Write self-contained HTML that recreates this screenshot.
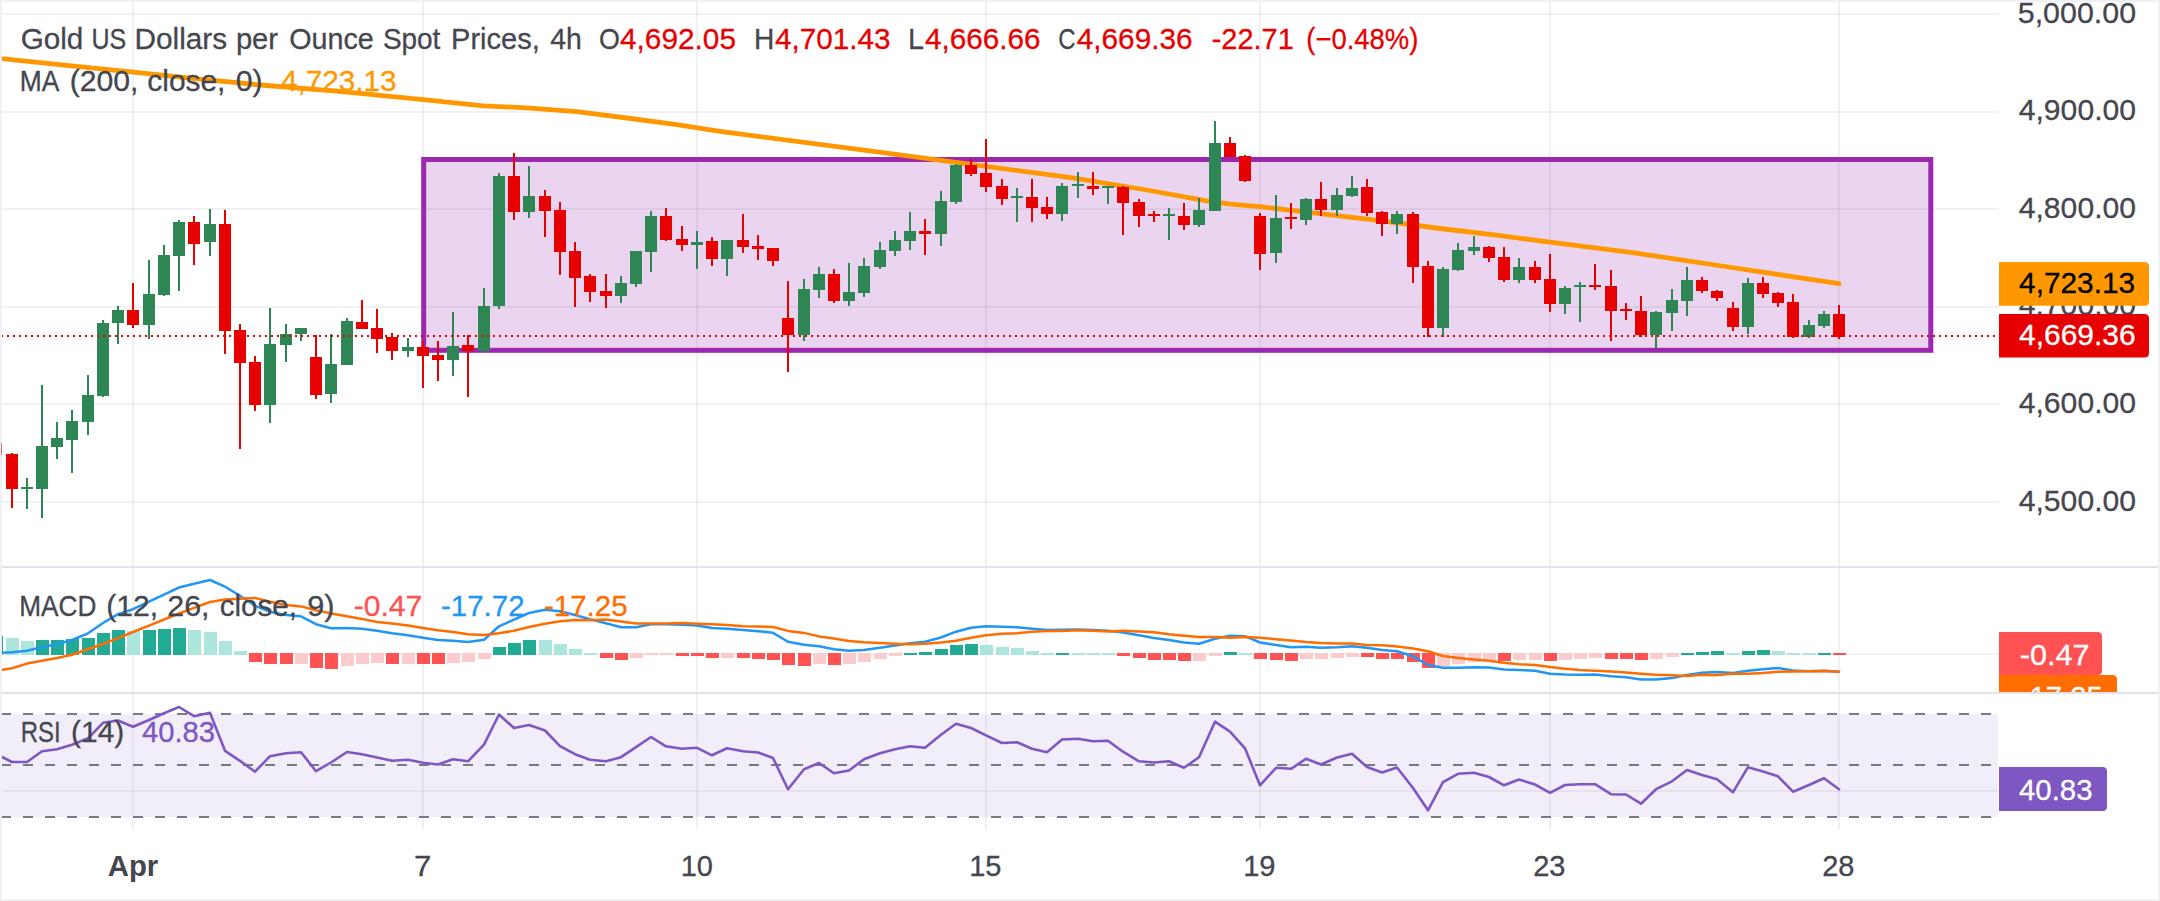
<!DOCTYPE html>
<html lang="en"><head><meta charset="utf-8"><title>Gold US Dollars per Ounce Spot Prices, 4h</title>
<style>html,body{margin:0;padding:0;background:#fff;}body{width:2160px;height:901px;overflow:hidden;}svg{display:block;}</style>
</head><body>
<svg width="2160" height="901" viewBox="0 0 2160 901" font-family="'Liberation Sans', sans-serif" font-size="30" stroke-width="0.3">
<rect width="2160" height="901" fill="#fff"/>
<g stroke="rgba(42,46,57,0.065)" stroke-width="2">
<line x1="133" y1="2" x2="133" y2="829.5"/>
<line x1="423" y1="2" x2="423" y2="829.5"/>
<line x1="697" y1="2" x2="697" y2="829.5"/>
<line x1="986" y1="2" x2="986" y2="829.5"/>
<line x1="1260" y1="2" x2="1260" y2="829.5"/>
<line x1="1550" y1="2" x2="1550" y2="829.5"/>
<line x1="1839" y1="2" x2="1839" y2="829.5"/>
<line x1="2" y1="14" x2="1999" y2="14"/>
<line x1="2" y1="112" x2="1999" y2="112"/>
<line x1="2" y1="209" x2="1999" y2="209"/>
<line x1="2" y1="307" x2="1999" y2="307"/>
<line x1="2" y1="404" x2="1999" y2="404"/>
<line x1="2" y1="502" x2="1999" y2="502"/>
<line x1="2" y1="654" x2="1999" y2="654"/>
<line x1="2" y1="791" x2="1999" y2="791"/>
</g>
<defs><clipPath id="cm"><rect x="1.5" y="1.5" width="1997.5" height="564"/></clipPath><clipPath id="c2"><rect x="1.5" y="567" width="1997.5" height="125"/></clipPath><clipPath id="c3"><rect x="1.5" y="693.5" width="1997.5" height="136"/></clipPath><clipPath id="ca"><rect x="1999" y="567" width="160" height="125"/></clipPath></defs>
<rect x="423.7" y="159.5" width="1507.1" height="190.8" fill="#9c27b0" fill-opacity="0.2" stroke="#9c27b0" stroke-width="5"/>
<g clip-path="url(#cm)"><polyline points="-3,58 1.7,58.7 66.7,65.3 133.3,72.2 200,79.2 266.7,85.5 333.3,90.8 360,93.3 423.3,99.7 483.3,105.8 526.7,107.8 576.7,111.7 626.7,118 676.7,124.7 720,131.3 883,152.7 1060,176.2 1080,179.0 1146.7,190 1206.7,200.8 1230,204.2 1260,206.7 1313.3,212.9 1380,220.6 1440,228.5 1498.3,235.4 1549.9,242.2 1634.4,252.9 1731.7,267.5 1839,283.7" fill="none" stroke="#ff9800" stroke-width="4.8" stroke-linejoin="round" stroke-linecap="round"/></g>
<g clip-path="url(#cm)">
<rect x="-5.00" y="443" width="2" height="12.0" fill="#e60000"/><rect x="-10.00" y="443" width="12" height="12.0" fill="#e60000"/>
<rect x="11.00" y="453" width="2" height="55.0" fill="#e60000"/><rect x="6.00" y="454" width="12" height="35.0" fill="#e60000"/>
<rect x="26.00" y="478" width="2" height="31.0" fill="#2d8653"/><rect x="21.00" y="487" width="12" height="2.0" fill="#2d8653"/>
<rect x="41.00" y="385" width="2" height="133.0" fill="#2d8653"/><rect x="36.00" y="446" width="12" height="43.0" fill="#2d8653"/>
<rect x="56.00" y="422" width="2" height="37.0" fill="#2d8653"/><rect x="51.00" y="438" width="12" height="9.0" fill="#2d8653"/>
<rect x="71.00" y="410" width="2" height="63.0" fill="#2d8653"/><rect x="66.00" y="421" width="12" height="19.0" fill="#2d8653"/>
<rect x="87.00" y="375" width="2" height="60.0" fill="#2d8653"/><rect x="82.00" y="395" width="12" height="27.0" fill="#2d8653"/>
<rect x="102.00" y="320" width="2" height="77.0" fill="#2d8653"/><rect x="97.00" y="323" width="12" height="73.0" fill="#2d8653"/>
<rect x="117.00" y="306" width="2" height="38.0" fill="#2d8653"/><rect x="112.00" y="310" width="12" height="13.0" fill="#2d8653"/>
<rect x="132.00" y="283" width="2" height="45.0" fill="#e60000"/><rect x="127.00" y="310" width="12" height="15.0" fill="#e60000"/>
<rect x="148.00" y="260" width="2" height="79.0" fill="#2d8653"/><rect x="143.00" y="294" width="12" height="31.0" fill="#2d8653"/>
<rect x="163.00" y="245" width="2" height="51.0" fill="#2d8653"/><rect x="158.00" y="255" width="12" height="40.0" fill="#2d8653"/>
<rect x="178.00" y="220" width="2" height="71.0" fill="#2d8653"/><rect x="173.00" y="222" width="12" height="34.0" fill="#2d8653"/>
<rect x="193.00" y="216" width="2" height="49.0" fill="#e60000"/><rect x="188.00" y="222" width="12" height="22.0" fill="#e60000"/>
<rect x="209.00" y="209" width="2" height="47.0" fill="#2d8653"/><rect x="204.00" y="224" width="12" height="18.0" fill="#2d8653"/>
<rect x="224.00" y="210" width="2" height="144.0" fill="#e60000"/><rect x="219.00" y="224" width="12" height="107.0" fill="#e60000"/>
<rect x="239.00" y="324" width="2" height="125.0" fill="#e60000"/><rect x="234.00" y="330" width="12" height="33.0" fill="#e60000"/>
<rect x="254.00" y="356" width="2" height="55.0" fill="#e60000"/><rect x="249.00" y="362" width="12" height="43.0" fill="#e60000"/>
<rect x="269.00" y="308" width="2" height="115.0" fill="#2d8653"/><rect x="264.00" y="344" width="12" height="61.0" fill="#2d8653"/>
<rect x="285.00" y="324" width="2" height="38.0" fill="#2d8653"/><rect x="280.00" y="334" width="12" height="11.0" fill="#2d8653"/>
<rect x="300.00" y="328" width="2" height="13.0" fill="#2d8653"/><rect x="295.00" y="328" width="12" height="6.0" fill="#2d8653"/>
<rect x="315.00" y="335" width="2" height="64.0" fill="#e60000"/><rect x="310.00" y="357" width="12" height="38.0" fill="#e60000"/>
<rect x="330.00" y="334" width="2" height="69.0" fill="#2d8653"/><rect x="325.00" y="364" width="12" height="30.0" fill="#2d8653"/>
<rect x="346.00" y="318" width="2" height="47.0" fill="#2d8653"/><rect x="341.00" y="321" width="12" height="44.0" fill="#2d8653"/>
<rect x="361.00" y="300" width="2" height="29.0" fill="#e60000"/><rect x="356.00" y="322" width="12" height="7.0" fill="#e60000"/>
<rect x="376.00" y="309" width="2" height="44.0" fill="#e60000"/><rect x="371.00" y="328" width="12" height="11.0" fill="#e60000"/>
<rect x="391.00" y="333" width="2" height="27.0" fill="#e60000"/><rect x="386.00" y="337" width="12" height="14.0" fill="#e60000"/>
<rect x="407.00" y="338" width="2" height="19.0" fill="#2d8653"/><rect x="402.00" y="347" width="12" height="4.0" fill="#2d8653"/>
<rect x="422.00" y="341" width="2" height="47.0" fill="#e60000"/><rect x="417.00" y="347" width="12" height="9.0" fill="#e60000"/>
<rect x="437.00" y="341" width="2" height="40.0" fill="#e60000"/><rect x="432.00" y="355" width="12" height="5.0" fill="#e60000"/>
<rect x="452.00" y="312" width="2" height="64.0" fill="#2d8653"/><rect x="447.00" y="346" width="12" height="14.0" fill="#2d8653"/>
<rect x="467.00" y="335" width="2" height="62.0" fill="#e60000"/><rect x="462.00" y="345" width="12" height="6.0" fill="#e60000"/>
<rect x="483.00" y="288" width="2" height="64.0" fill="#2d8653"/><rect x="478.00" y="306" width="12" height="45.0" fill="#2d8653"/>
<rect x="498.00" y="173" width="2" height="136.0" fill="#2d8653"/><rect x="493.00" y="176" width="12" height="130.0" fill="#2d8653"/>
<rect x="513.00" y="153" width="2" height="67.0" fill="#e60000"/><rect x="508.00" y="176" width="12" height="36.0" fill="#e60000"/>
<rect x="528.00" y="166" width="2" height="52.0" fill="#2d8653"/><rect x="523.00" y="196" width="12" height="16.0" fill="#2d8653"/>
<rect x="544.00" y="190" width="2" height="47.0" fill="#e60000"/><rect x="539.00" y="196" width="12" height="15.0" fill="#e60000"/>
<rect x="559.00" y="202" width="2" height="73.0" fill="#e60000"/><rect x="554.00" y="210" width="12" height="42.0" fill="#e60000"/>
<rect x="574.00" y="242" width="2" height="65.0" fill="#e60000"/><rect x="569.00" y="251" width="12" height="27.0" fill="#e60000"/>
<rect x="589.00" y="274" width="2" height="28.0" fill="#e60000"/><rect x="584.00" y="276" width="12" height="16.0" fill="#e60000"/>
<rect x="605.00" y="274" width="2" height="34.0" fill="#e60000"/><rect x="600.00" y="291" width="12" height="5.0" fill="#e60000"/>
<rect x="620.00" y="276" width="2" height="27.0" fill="#2d8653"/><rect x="615.00" y="283" width="12" height="13.0" fill="#2d8653"/>
<rect x="635.00" y="251" width="2" height="36.0" fill="#2d8653"/><rect x="630.00" y="251" width="12" height="33.0" fill="#2d8653"/>
<rect x="650.00" y="211" width="2" height="61.0" fill="#2d8653"/><rect x="645.00" y="216" width="12" height="36.0" fill="#2d8653"/>
<rect x="665.00" y="208" width="2" height="33.0" fill="#e60000"/><rect x="660.00" y="216" width="12" height="24.0" fill="#e60000"/>
<rect x="681.00" y="226" width="2" height="25.0" fill="#e60000"/><rect x="676.00" y="239" width="12" height="6.0" fill="#e60000"/>
<rect x="696.00" y="231" width="2" height="38.0" fill="#2d8653"/><rect x="691.00" y="242" width="12" height="3.0" fill="#2d8653"/>
<rect x="711.00" y="237" width="2" height="29.0" fill="#e60000"/><rect x="706.00" y="241" width="12" height="18.0" fill="#e60000"/>
<rect x="726.00" y="240" width="2" height="36.0" fill="#2d8653"/><rect x="721.00" y="240" width="12" height="19.0" fill="#2d8653"/>
<rect x="742.00" y="214" width="2" height="39.0" fill="#e60000"/><rect x="737.00" y="240" width="12" height="7.0" fill="#e60000"/>
<rect x="757.00" y="235" width="2" height="25.0" fill="#e60000"/><rect x="752.00" y="246" width="12" height="3.0" fill="#e60000"/>
<rect x="772.00" y="248" width="2" height="18.0" fill="#e60000"/><rect x="767.00" y="248" width="12" height="13.0" fill="#e60000"/>
<rect x="787.00" y="281" width="2" height="91.0" fill="#e60000"/><rect x="782.00" y="318" width="12" height="17.0" fill="#e60000"/>
<rect x="803.00" y="279" width="2" height="62.0" fill="#2d8653"/><rect x="798.00" y="289" width="12" height="46.0" fill="#2d8653"/>
<rect x="818.00" y="267" width="2" height="31.0" fill="#2d8653"/><rect x="813.00" y="274" width="12" height="16.0" fill="#2d8653"/>
<rect x="833.00" y="269" width="2" height="34.0" fill="#e60000"/><rect x="828.00" y="274" width="12" height="27.0" fill="#e60000"/>
<rect x="848.00" y="263" width="2" height="43.0" fill="#2d8653"/><rect x="843.00" y="292" width="12" height="9.0" fill="#2d8653"/>
<rect x="863.00" y="258" width="2" height="39.0" fill="#2d8653"/><rect x="858.00" y="266" width="12" height="27.0" fill="#2d8653"/>
<rect x="879.00" y="242" width="2" height="27.0" fill="#2d8653"/><rect x="874.00" y="250" width="12" height="17.0" fill="#2d8653"/>
<rect x="894.00" y="231" width="2" height="25.0" fill="#2d8653"/><rect x="889.00" y="240" width="12" height="11.0" fill="#2d8653"/>
<rect x="909.00" y="212" width="2" height="38.0" fill="#2d8653"/><rect x="904.00" y="231" width="12" height="10.0" fill="#2d8653"/>
<rect x="924.00" y="219" width="2" height="36.0" fill="#e60000"/><rect x="919.00" y="231" width="12" height="3.0" fill="#e60000"/>
<rect x="940.00" y="191" width="2" height="55.0" fill="#2d8653"/><rect x="935.00" y="201" width="12" height="33.0" fill="#2d8653"/>
<rect x="955.00" y="164" width="2" height="40.0" fill="#2d8653"/><rect x="950.00" y="165" width="12" height="37.0" fill="#2d8653"/>
<rect x="970.00" y="159" width="2" height="17.0" fill="#e60000"/><rect x="965.00" y="165" width="12" height="9.0" fill="#e60000"/>
<rect x="985.00" y="139" width="2" height="53.0" fill="#e60000"/><rect x="980.00" y="173" width="12" height="14.0" fill="#e60000"/>
<rect x="1001.00" y="179" width="2" height="26.0" fill="#e60000"/><rect x="996.00" y="186" width="12" height="13.0" fill="#e60000"/>
<rect x="1016.00" y="188" width="2" height="34.0" fill="#2d8653"/><rect x="1011.00" y="196" width="12" height="2.0" fill="#2d8653"/>
<rect x="1031.00" y="179" width="2" height="43.0" fill="#e60000"/><rect x="1026.00" y="197" width="12" height="11.0" fill="#e60000"/>
<rect x="1046.00" y="197" width="2" height="22.0" fill="#e60000"/><rect x="1041.00" y="207" width="12" height="7.0" fill="#e60000"/>
<rect x="1061.00" y="183" width="2" height="38.0" fill="#2d8653"/><rect x="1056.00" y="186" width="12" height="28.0" fill="#2d8653"/>
<rect x="1077.00" y="172" width="2" height="26.0" fill="#2d8653"/><rect x="1072.00" y="184" width="12" height="2.0" fill="#2d8653"/>
<rect x="1092.00" y="172" width="2" height="23.0" fill="#e60000"/><rect x="1087.00" y="186" width="12" height="3.0" fill="#e60000"/>
<rect x="1107.00" y="186" width="2" height="18.0" fill="#2d8653"/><rect x="1102.00" y="186" width="12" height="2.0" fill="#2d8653"/>
<rect x="1122.00" y="186" width="2" height="49.0" fill="#e60000"/><rect x="1117.00" y="187" width="12" height="16.0" fill="#e60000"/>
<rect x="1138.00" y="199" width="2" height="28.0" fill="#e60000"/><rect x="1133.00" y="202" width="12" height="14.0" fill="#e60000"/>
<rect x="1153.00" y="211" width="2" height="11.0" fill="#e60000"/><rect x="1148.00" y="214" width="12" height="2.0" fill="#e60000"/>
<rect x="1168.00" y="208" width="2" height="32.0" fill="#2d8653"/><rect x="1163.00" y="214" width="12" height="2.0" fill="#2d8653"/>
<rect x="1183.00" y="203" width="2" height="27.0" fill="#e60000"/><rect x="1178.00" y="216" width="12" height="9.0" fill="#e60000"/>
<rect x="1198.00" y="198" width="2" height="29.0" fill="#2d8653"/><rect x="1193.00" y="210" width="12" height="15.0" fill="#2d8653"/>
<rect x="1214.00" y="121" width="2" height="90.0" fill="#2d8653"/><rect x="1209.00" y="143" width="12" height="68.0" fill="#2d8653"/>
<rect x="1229.00" y="137" width="2" height="20.0" fill="#e60000"/><rect x="1224.00" y="143" width="12" height="14.0" fill="#e60000"/>
<rect x="1244.00" y="155" width="2" height="27.0" fill="#e60000"/><rect x="1239.00" y="156" width="12" height="25.0" fill="#e60000"/>
<rect x="1259.00" y="213" width="2" height="57.0" fill="#e60000"/><rect x="1254.00" y="216" width="12" height="38.0" fill="#e60000"/>
<rect x="1275.00" y="195" width="2" height="68.0" fill="#2d8653"/><rect x="1270.00" y="218" width="12" height="35.0" fill="#2d8653"/>
<rect x="1290.00" y="203" width="2" height="26.0" fill="#e60000"/><rect x="1285.00" y="217" width="12" height="2.0" fill="#e60000"/>
<rect x="1305.00" y="198" width="2" height="27.0" fill="#2d8653"/><rect x="1300.00" y="199" width="12" height="21.0" fill="#2d8653"/>
<rect x="1320.00" y="182" width="2" height="34.0" fill="#e60000"/><rect x="1315.00" y="199" width="12" height="11.0" fill="#e60000"/>
<rect x="1336.00" y="188" width="2" height="28.0" fill="#2d8653"/><rect x="1331.00" y="195" width="12" height="15.0" fill="#2d8653"/>
<rect x="1351.00" y="176" width="2" height="21.0" fill="#2d8653"/><rect x="1346.00" y="188" width="12" height="8.0" fill="#2d8653"/>
<rect x="1366.00" y="179" width="2" height="37.0" fill="#e60000"/><rect x="1361.00" y="187" width="12" height="26.0" fill="#e60000"/>
<rect x="1381.00" y="211" width="2" height="25.0" fill="#e60000"/><rect x="1376.00" y="212" width="12" height="12.0" fill="#e60000"/>
<rect x="1396.00" y="211" width="2" height="23.0" fill="#2d8653"/><rect x="1391.00" y="214" width="12" height="10.0" fill="#2d8653"/>
<rect x="1412.00" y="212" width="2" height="71.0" fill="#e60000"/><rect x="1407.00" y="214" width="12" height="53.0" fill="#e60000"/>
<rect x="1427.00" y="261" width="2" height="76.0" fill="#e60000"/><rect x="1422.00" y="266" width="12" height="62.0" fill="#e60000"/>
<rect x="1442.00" y="267" width="2" height="70.0" fill="#2d8653"/><rect x="1437.00" y="269" width="12" height="59.0" fill="#2d8653"/>
<rect x="1457.00" y="243" width="2" height="28.0" fill="#2d8653"/><rect x="1452.00" y="250" width="12" height="20.0" fill="#2d8653"/>
<rect x="1473.00" y="236" width="2" height="19.0" fill="#2d8653"/><rect x="1468.00" y="247" width="12" height="4.0" fill="#2d8653"/>
<rect x="1488.00" y="246" width="2" height="16.0" fill="#e60000"/><rect x="1483.00" y="247" width="12" height="11.0" fill="#e60000"/>
<rect x="1503.00" y="247" width="2" height="35.0" fill="#e60000"/><rect x="1498.00" y="257" width="12" height="23.0" fill="#e60000"/>
<rect x="1518.00" y="258" width="2" height="25.0" fill="#2d8653"/><rect x="1513.00" y="267" width="12" height="13.0" fill="#2d8653"/>
<rect x="1534.00" y="261" width="2" height="22.0" fill="#e60000"/><rect x="1529.00" y="267" width="12" height="13.0" fill="#e60000"/>
<rect x="1549.00" y="254" width="2" height="58.0" fill="#e60000"/><rect x="1544.00" y="279" width="12" height="25.0" fill="#e60000"/>
<rect x="1564.00" y="286" width="2" height="28.0" fill="#2d8653"/><rect x="1559.00" y="288" width="12" height="16.0" fill="#2d8653"/>
<rect x="1579.00" y="282" width="2" height="40.0" fill="#2d8653"/><rect x="1574.00" y="285" width="12" height="2.0" fill="#2d8653"/>
<rect x="1594.00" y="264" width="2" height="26.0" fill="#e60000"/><rect x="1589.00" y="285" width="12" height="2.0" fill="#e60000"/>
<rect x="1610.00" y="270" width="2" height="71.0" fill="#e60000"/><rect x="1605.00" y="286" width="12" height="25.0" fill="#e60000"/>
<rect x="1625.00" y="303" width="2" height="17.0" fill="#e60000"/><rect x="1620.00" y="309" width="12" height="2.0" fill="#e60000"/>
<rect x="1640.00" y="296" width="2" height="41.0" fill="#e60000"/><rect x="1635.00" y="311" width="12" height="24.0" fill="#e60000"/>
<rect x="1655.00" y="311" width="2" height="37.0" fill="#2d8653"/><rect x="1650.00" y="312" width="12" height="23.0" fill="#2d8653"/>
<rect x="1671.00" y="289" width="2" height="42.0" fill="#2d8653"/><rect x="1666.00" y="300" width="12" height="13.0" fill="#2d8653"/>
<rect x="1686.00" y="267" width="2" height="49.0" fill="#2d8653"/><rect x="1681.00" y="280" width="12" height="21.0" fill="#2d8653"/>
<rect x="1701.00" y="277" width="2" height="16.0" fill="#e60000"/><rect x="1696.00" y="280" width="12" height="11.0" fill="#e60000"/>
<rect x="1716.00" y="290" width="2" height="11.0" fill="#e60000"/><rect x="1711.00" y="291" width="12" height="7.0" fill="#e60000"/>
<rect x="1732.00" y="302" width="2" height="29.0" fill="#e60000"/><rect x="1727.00" y="308" width="12" height="19.0" fill="#e60000"/>
<rect x="1747.00" y="278" width="2" height="56.0" fill="#2d8653"/><rect x="1742.00" y="283" width="12" height="44.0" fill="#2d8653"/>
<rect x="1762.00" y="277" width="2" height="21.0" fill="#e60000"/><rect x="1757.00" y="283" width="12" height="11.0" fill="#e60000"/>
<rect x="1777.00" y="292" width="2" height="15.0" fill="#e60000"/><rect x="1772.00" y="293" width="12" height="10.0" fill="#e60000"/>
<rect x="1792.00" y="294" width="2" height="44.0" fill="#e60000"/><rect x="1787.00" y="302" width="12" height="35.0" fill="#e60000"/>
<rect x="1808.00" y="320" width="2" height="18.0" fill="#2d8653"/><rect x="1803.00" y="325" width="12" height="12.0" fill="#2d8653"/>
<rect x="1823.00" y="311" width="2" height="17.0" fill="#2d8653"/><rect x="1818.00" y="314" width="12" height="12.0" fill="#2d8653"/>
<rect x="1838.00" y="305" width="2" height="34.0" fill="#e60000"/><rect x="1833.00" y="314" width="12" height="23.0" fill="#e60000"/>
</g>
<line x1="1" y1="336" x2="1996" y2="336" stroke="#e60000" stroke-width="2" stroke-dasharray="2 4"/>
<g clip-path="url(#c2)">
<rect x="-10" y="636" width="13" height="19" fill="#22ab94"/>
<rect x="6" y="638" width="13" height="17" fill="#ace5dc"/>
<rect x="21" y="641" width="13" height="14" fill="#ace5dc"/>
<rect x="36" y="640" width="13" height="15" fill="#22ab94"/>
<rect x="51" y="640" width="13" height="15" fill="#22ab94"/>
<rect x="66" y="639" width="13" height="16" fill="#22ab94"/>
<rect x="82" y="638" width="13" height="17" fill="#22ab94"/>
<rect x="97" y="633" width="13" height="22" fill="#22ab94"/>
<rect x="112" y="630" width="13" height="25" fill="#22ab94"/>
<rect x="127" y="631" width="13" height="24" fill="#ace5dc"/>
<rect x="143" y="630" width="13" height="25" fill="#22ab94"/>
<rect x="158" y="629" width="13" height="26" fill="#22ab94"/>
<rect x="173" y="628" width="13" height="27" fill="#22ab94"/>
<rect x="188" y="630" width="13" height="25" fill="#ace5dc"/>
<rect x="204" y="632" width="13" height="23" fill="#ace5dc"/>
<rect x="219" y="641" width="13" height="14" fill="#ace5dc"/>
<rect x="234" y="651" width="13" height="4" fill="#ace5dc"/>
<rect x="249" y="653" width="13" height="9" fill="#ff5252"/>
<rect x="264" y="653" width="13" height="11" fill="#ff5252"/>
<rect x="280" y="653" width="13" height="11" fill="#ff5252"/>
<rect x="295" y="653" width="13" height="11" fill="#fccbcd"/>
<rect x="310" y="653" width="13" height="15" fill="#ff5252"/>
<rect x="325" y="653" width="13" height="16" fill="#ff5252"/>
<rect x="341" y="653" width="13" height="13" fill="#fccbcd"/>
<rect x="356" y="653" width="13" height="11" fill="#fccbcd"/>
<rect x="371" y="653" width="13" height="10" fill="#fccbcd"/>
<rect x="386" y="653" width="13" height="11" fill="#ff5252"/>
<rect x="402" y="653" width="13" height="11" fill="#fccbcd"/>
<rect x="417" y="653" width="13" height="11" fill="#ff5252"/>
<rect x="432" y="653" width="13" height="11" fill="#ff5252"/>
<rect x="447" y="653" width="13" height="10" fill="#fccbcd"/>
<rect x="462" y="653" width="13" height="9" fill="#fccbcd"/>
<rect x="478" y="653" width="13" height="6" fill="#fccbcd"/>
<rect x="493" y="647" width="13" height="8" fill="#22ab94"/>
<rect x="508" y="643" width="13" height="12" fill="#22ab94"/>
<rect x="523" y="640" width="13" height="15" fill="#22ab94"/>
<rect x="539" y="640" width="13" height="15" fill="#ace5dc"/>
<rect x="554" y="644" width="13" height="11" fill="#ace5dc"/>
<rect x="569" y="649" width="13" height="6" fill="#ace5dc"/>
<rect x="584" y="653" width="13" height="2" fill="#ace5dc"/>
<rect x="600" y="653" width="13" height="5" fill="#ff5252"/>
<rect x="615" y="653" width="13" height="7" fill="#ff5252"/>
<rect x="630" y="653" width="13" height="5" fill="#fccbcd"/>
<rect x="645" y="653" width="13" height="2" fill="#fccbcd"/>
<rect x="660" y="653" width="13" height="2" fill="#fccbcd"/>
<rect x="676" y="653" width="13" height="3" fill="#ff5252"/>
<rect x="691" y="653" width="13" height="3" fill="#ff5252"/>
<rect x="706" y="653" width="13" height="5" fill="#ff5252"/>
<rect x="721" y="653" width="13" height="5" fill="#fccbcd"/>
<rect x="737" y="653" width="13" height="5" fill="#ff5252"/>
<rect x="752" y="653" width="13" height="6" fill="#ff5252"/>
<rect x="767" y="653" width="13" height="7" fill="#ff5252"/>
<rect x="782" y="653" width="13" height="12" fill="#ff5252"/>
<rect x="798" y="653" width="13" height="13" fill="#ff5252"/>
<rect x="813" y="653" width="13" height="11" fill="#fccbcd"/>
<rect x="828" y="653" width="13" height="12" fill="#ff5252"/>
<rect x="843" y="653" width="13" height="11" fill="#fccbcd"/>
<rect x="858" y="653" width="13" height="9" fill="#fccbcd"/>
<rect x="874" y="653" width="13" height="6" fill="#fccbcd"/>
<rect x="889" y="653" width="13" height="3" fill="#fccbcd"/>
<rect x="904" y="653" width="13" height="2" fill="#22ab94"/>
<rect x="919" y="652" width="13" height="3" fill="#22ab94"/>
<rect x="935" y="649" width="13" height="6" fill="#22ab94"/>
<rect x="950" y="645" width="13" height="10" fill="#22ab94"/>
<rect x="965" y="644" width="13" height="11" fill="#22ab94"/>
<rect x="980" y="645" width="13" height="10" fill="#ace5dc"/>
<rect x="996" y="647" width="13" height="8" fill="#ace5dc"/>
<rect x="1011" y="648" width="13" height="7" fill="#ace5dc"/>
<rect x="1026" y="651" width="13" height="4" fill="#ace5dc"/>
<rect x="1041" y="653" width="13" height="2" fill="#ace5dc"/>
<rect x="1056" y="653" width="13" height="2" fill="#22ab94"/>
<rect x="1072" y="653" width="13" height="2" fill="#ace5dc"/>
<rect x="1087" y="653" width="13" height="2" fill="#ace5dc"/>
<rect x="1102" y="653" width="13" height="2" fill="#ace5dc"/>
<rect x="1117" y="653" width="13" height="3" fill="#ff5252"/>
<rect x="1133" y="653" width="13" height="5" fill="#ff5252"/>
<rect x="1148" y="653" width="13" height="7" fill="#ff5252"/>
<rect x="1163" y="653" width="13" height="7" fill="#ff5252"/>
<rect x="1178" y="653" width="13" height="8" fill="#ff5252"/>
<rect x="1193" y="653" width="13" height="8" fill="#fccbcd"/>
<rect x="1209" y="653" width="13" height="3" fill="#fccbcd"/>
<rect x="1224" y="652" width="13" height="3" fill="#22ab94"/>
<rect x="1239" y="653" width="13" height="2" fill="#ace5dc"/>
<rect x="1254" y="653" width="13" height="6" fill="#ff5252"/>
<rect x="1270" y="653" width="13" height="7" fill="#ff5252"/>
<rect x="1285" y="653" width="13" height="8" fill="#ff5252"/>
<rect x="1300" y="653" width="13" height="6" fill="#fccbcd"/>
<rect x="1315" y="653" width="13" height="6" fill="#fccbcd"/>
<rect x="1331" y="653" width="13" height="5" fill="#fccbcd"/>
<rect x="1346" y="653" width="13" height="4" fill="#fccbcd"/>
<rect x="1361" y="653" width="13" height="4" fill="#ff5252"/>
<rect x="1376" y="653" width="13" height="6" fill="#ff5252"/>
<rect x="1391" y="653" width="13" height="6" fill="#ff5252"/>
<rect x="1407" y="653" width="13" height="9" fill="#ff5252"/>
<rect x="1422" y="653" width="13" height="15" fill="#ff5252"/>
<rect x="1437" y="653" width="13" height="13" fill="#fccbcd"/>
<rect x="1452" y="653" width="13" height="11" fill="#fccbcd"/>
<rect x="1468" y="653" width="13" height="9" fill="#fccbcd"/>
<rect x="1483" y="653" width="13" height="8" fill="#fccbcd"/>
<rect x="1498" y="653" width="13" height="8" fill="#ff5252"/>
<rect x="1513" y="653" width="13" height="7" fill="#fccbcd"/>
<rect x="1529" y="653" width="13" height="7" fill="#fccbcd"/>
<rect x="1544" y="653" width="13" height="8" fill="#ff5252"/>
<rect x="1559" y="653" width="13" height="7" fill="#fccbcd"/>
<rect x="1574" y="653" width="13" height="6" fill="#fccbcd"/>
<rect x="1589" y="653" width="13" height="5" fill="#fccbcd"/>
<rect x="1605" y="653" width="13" height="6" fill="#ff5252"/>
<rect x="1620" y="653" width="13" height="6" fill="#ff5252"/>
<rect x="1635" y="653" width="13" height="7" fill="#ff5252"/>
<rect x="1650" y="653" width="13" height="6" fill="#fccbcd"/>
<rect x="1666" y="653" width="13" height="4" fill="#fccbcd"/>
<rect x="1681" y="653" width="13" height="2" fill="#22ab94"/>
<rect x="1696" y="652" width="13" height="3" fill="#22ab94"/>
<rect x="1711" y="651" width="13" height="4" fill="#22ab94"/>
<rect x="1727" y="653" width="13" height="2" fill="#ace5dc"/>
<rect x="1742" y="651" width="13" height="4" fill="#22ab94"/>
<rect x="1757" y="650" width="13" height="5" fill="#22ab94"/>
<rect x="1772" y="651" width="13" height="4" fill="#ace5dc"/>
<rect x="1787" y="653" width="13" height="2" fill="#ace5dc"/>
<rect x="1803" y="653" width="13" height="2" fill="#ace5dc"/>
<rect x="1818" y="653" width="13" height="2" fill="#22ab94"/>
<rect x="1833" y="653" width="13" height="2" fill="#ff5252"/>
<polyline points="-4.0,653 12.0,652.2 27.0,650.8 42.0,647 57.0,644.2 72.0,640 88.0,633.3 103.0,623 118.0,614.2 133.0,609.2 149.0,601.7 164.0,594.7 179.0,587.5 194.0,583.8 210.0,580 225.0,586.7 240.0,595.8 255.0,605.8 270.0,611.7 286.0,615 301.0,616.3 316.0,624.2 331.0,628.3 347.0,628 362.0,628.7 377.0,630.8 392.0,633.3 408.0,635.3 423.0,637.8 438.0,640 453.0,640.8 468.0,642 484.0,639.7 499.0,626.3 514.0,619.7 529.0,613 545.0,609.7 560.0,611.3 575.0,615 590.0,619.2 606.0,623.3 621.0,627.2 636.0,627.2 651.0,624.2 666.0,624.2 682.0,624.7 697.0,625.5 712.0,628 727.0,628.7 743.0,630 758.0,631.2 773.0,632.8 788.0,641.7 804.0,644.7 819.0,646.2 834.0,649.2 849.0,650.8 864.0,650 880.0,647.8 895.0,645.5 910.0,643.3 925.0,641.7 941.0,637.5 956.0,631.7 971.0,627.8 986.0,626.3 1002.0,626.7 1017.0,627.2 1032.0,628.7 1047.0,630 1062.0,629.7 1078.0,629.5 1093.0,630 1108.0,630.8 1123.0,632.5 1139.0,635.3 1154.0,638 1169.0,640 1184.0,642.5 1199.0,643.7 1215.0,638.7 1230.0,635.8 1245.0,636.2 1260.0,642.5 1276.0,645 1291.0,647.2 1306.0,646.7 1321.0,647.8 1337.0,647.2 1352.0,646.3 1367.0,647.8 1382.0,650 1397.0,651.2 1413.0,656.3 1428.0,665 1443.0,667.8 1458.0,667.8 1474.0,667.2 1489.0,667.5 1504.0,669.5 1519.0,670 1535.0,670.8 1550.0,673.8 1565.0,674.5 1580.0,674.7 1595.0,674.5 1611.0,676.2 1626.0,677.2 1641.0,679.5 1656.0,679.5 1672.0,678 1687.0,675 1702.0,672.8 1717.0,672 1733.0,673 1748.0,670.8 1763.0,669.2 1778.0,667.9 1793.0,670.6 1809.0,671.2 1824.0,670.7 1839.0,671.8" fill="none" stroke="#2196f3" stroke-width="2.5" stroke-linejoin="round" stroke-linecap="round"/>
<polyline points="-4.0,670.8 12.0,668.2 27.0,663.6 42.0,660.8 57.0,658.0 72.0,654.8 88.0,649.3 103.0,644.0 118.0,638.2 133.0,632.0 149.0,625.7 164.0,619.5 179.0,613.5 194.0,607.8 210.0,602.0 225.0,599.5 240.0,598.8 255.0,597.9 270.0,601.8 286.0,605.1 301.0,606.4 316.0,610.3 331.0,613.4 347.0,616.2 362.0,618.9 377.0,622.0 392.0,623.5 408.0,625.5 423.0,628.0 438.0,630.2 453.0,632.0 468.0,634.2 484.0,634.9 499.0,633.3 514.0,630.7 529.0,627.0 545.0,623.7 560.0,621.3 575.0,620.0 590.0,620.2 606.0,619.5 621.0,621.4 636.0,623.4 651.0,623.4 666.0,623.4 682.0,622.9 697.0,623.7 712.0,624.2 727.0,624.9 743.0,626.2 758.0,626.4 773.0,627.0 788.0,630.9 804.0,632.9 819.0,636.4 834.0,638.4 849.0,641.0 864.0,642.2 880.0,643.0 895.0,643.7 910.0,644.3 925.0,643.7 941.0,642.5 956.0,640.7 971.0,637.8 986.0,635.3 1002.0,633.7 1017.0,633.2 1032.0,631.7 1047.0,631.0 1062.0,630.9 1078.0,630.3 1093.0,630.8 1108.0,631.6 1123.0,630.7 1139.0,631.5 1154.0,632.2 1169.0,634.2 1184.0,635.7 1199.0,636.9 1215.0,636.9 1230.0,637.8 1245.0,637.0 1260.0,637.7 1276.0,639.2 1291.0,640.4 1306.0,641.9 1321.0,643.0 1337.0,643.4 1352.0,643.5 1367.0,645.0 1382.0,645.2 1397.0,646.4 1413.0,648.5 1428.0,651.2 1443.0,656.0 1458.0,658.0 1474.0,659.4 1489.0,660.7 1504.0,662.7 1519.0,664.2 1535.0,665.0 1550.0,667.0 1565.0,668.7 1580.0,669.9 1595.0,670.7 1611.0,671.4 1626.0,672.4 1641.0,673.7 1656.0,674.7 1672.0,675.2 1687.0,675.9 1702.0,674.8 1717.0,675.0 1733.0,673.8 1748.0,673.8 1763.0,673.0 1778.0,671.7 1793.0,671.4 1809.0,671.3 1824.0,671.1 1839.0,671.7" fill="none" stroke="#ff6d00" stroke-width="2.5" stroke-linejoin="round" stroke-linecap="round"/>
</g>
<rect x="2" y="714" width="1996" height="103" fill="#7e57c2" fill-opacity="0.1"/>
<line x1="1" y1="714" x2="1992" y2="714" stroke="#787b86" stroke-width="2" stroke-dasharray="10 12"/>
<line x1="1" y1="765" x2="1992" y2="765" stroke="#787b86" stroke-width="2" stroke-dasharray="10 12"/>
<line x1="1" y1="817" x2="1992" y2="817" stroke="#787b86" stroke-width="2" stroke-dasharray="10 12"/>
<g clip-path="url(#c3)"><polyline points="-4.0,754 12.0,762 27.0,762 42.0,751.2 57.0,749.2 72.0,744.7 88.0,738.3 103.0,722.8 118.0,720.5 133.0,726.7 149.0,720 164.0,713.3 179.0,707 194.0,716.2 210.0,712.8 225.0,750.8 240.0,760.8 255.0,771.7 270.0,756.2 286.0,753.3 301.0,752.2 316.0,771.2 331.0,762.5 347.0,752 362.0,754.2 377.0,757.5 392.0,760.8 408.0,759.7 423.0,762.8 438.0,764.5 453.0,759.2 468.0,761.3 484.0,744.7 499.0,714.5 514.0,728 529.0,725 545.0,730.5 560.0,746.2 575.0,754.2 590.0,759.7 606.0,761.3 621.0,757.2 636.0,747.2 651.0,737 666.0,746.3 682.0,748.7 697.0,747.8 712.0,755.3 727.0,748.3 743.0,751.2 758.0,752.5 773.0,758 788.0,789.2 804.0,769.2 819.0,763 834.0,773.3 849.0,770.5 864.0,759.2 880.0,753.3 895.0,749.2 910.0,746.2 925.0,747.8 941.0,734.7 956.0,723.7 971.0,728 986.0,735.3 1002.0,743 1017.0,742.2 1032.0,748.7 1047.0,752.2 1062.0,739.5 1078.0,738.8 1093.0,741.3 1108.0,740.8 1123.0,751.7 1139.0,761.3 1154.0,762.5 1169.0,761.3 1184.0,767.8 1199.0,757.2 1215.0,721.7 1230.0,731.7 1245.0,748.3 1260.0,785.3 1276.0,767.8 1291.0,768.8 1306.0,758.8 1321.0,764.5 1337.0,757.5 1352.0,753.8 1367.0,767 1382.0,772.5 1397.0,767.5 1413.0,788 1428.0,810.3 1443.0,782.2 1458.0,773.8 1474.0,772.8 1489.0,777 1504.0,785.3 1519.0,779.5 1535.0,784.5 1550.0,792.8 1565.0,785 1580.0,784.2 1595.0,784.2 1611.0,794.2 1626.0,794.5 1641.0,803.7 1656.0,789.2 1672.0,781.3 1687.0,770 1702.0,775 1717.0,779.2 1733.0,792.2 1748.0,767.2 1763.0,771.5 1778.0,776.3 1793.0,791.7 1809.0,785 1824.0,778.3 1839.0,789.2" fill="none" stroke="#7e57c2" stroke-width="2.6" stroke-linejoin="round" stroke-linecap="round"/></g>
<g fill="#e0e3eb"><rect x="0" y="566" width="2158" height="2"/><rect x="0" y="692" width="2158" height="2"/></g><g fill="#f0f1f5"><rect x="0" y="0" width="2160" height="2"/><rect x="0" y="0" width="2" height="901"/><rect x="2158" y="0" width="2" height="901"/><rect x="0" y="899" width="2160" height="2"/></g>
<rect x="1" y="443" width="1" height="12" fill="#e60000" fill-opacity="0.55"/>
<text x="2017.75" y="22.5" font-size="29.6" fill="#45464e" stroke="#45464e" textLength="118.29" lengthAdjust="spacingAndGlyphs">5,000.00</text>
<text x="2018.75" y="120.1" font-size="29.6" fill="#45464e" stroke="#45464e" textLength="117.26" lengthAdjust="spacingAndGlyphs">4,900.00</text>
<text x="2018.75" y="217.7" font-size="29.6" fill="#45464e" stroke="#45464e" textLength="117.26" lengthAdjust="spacingAndGlyphs">4,800.00</text>
<text x="2018.75" y="315.3" font-size="29.6" fill="#45464e" stroke="#45464e" textLength="117.26" lengthAdjust="spacingAndGlyphs">4,700.00</text>
<text x="2018.75" y="412.9" font-size="29.6" fill="#45464e" stroke="#45464e" textLength="117.26" lengthAdjust="spacingAndGlyphs">4,600.00</text>
<text x="2018.75" y="510.5" font-size="29.6" fill="#45464e" stroke="#45464e" textLength="117.26" lengthAdjust="spacingAndGlyphs">4,500.00</text>
<path d="M1999,262H2144.5Q2149,262 2149,266.5V301.2Q2149,305.7 2144.5,305.7H1999Z" fill="#ff9800"/>
<text x="2019.10" y="292.8" font-size="29.6" fill="#000" stroke="#000" textLength="116.02" lengthAdjust="spacingAndGlyphs">4,723.13</text>
<path d="M1999,314H2144.5Q2149,314 2149,318.5V353.1Q2149,357.6 2144.5,357.6H1999Z" fill="#e60000"/>
<text x="2019.10" y="344.7" font-size="29.6" fill="#fff" stroke="#fff" textLength="116.52" lengthAdjust="spacingAndGlyphs">4,669.36</text>
<g clip-path="url(#ca)">
<path d="M1999,675H2112.5Q2117,675 2117,679.5V714.5Q2117,719 2112.5,719H1999Z" fill="#ff6d00"/>
<text x="2019.80" y="706.9" font-size="29.6" fill="#fff" stroke="#fff" textLength="83.06" lengthAdjust="spacingAndGlyphs">-17.25</text>
<path d="M1999,632H2097.5Q2102,632 2102,636.5V670.5Q2102,675 2097.5,675H1999Z" fill="#ff5252"/>
<text x="2019.80" y="665.2" font-size="29.6" fill="#fff" stroke="#fff" textLength="69.58" lengthAdjust="spacingAndGlyphs">-0.47</text>
</g>
<path d="M1999,767H2102.5Q2107,767 2107,771.5V806.5Q2107,811 2102.5,811H1999Z" fill="#7e57c2"/>
<text x="2019.00" y="800.2" font-size="29.6" fill="#fff" stroke="#fff" textLength="73.53" lengthAdjust="spacingAndGlyphs">40.83</text>
<text x="107.75" y="875.6" font-size="29.6" fill="#45464e" stroke="#45464e" textLength="50.54" lengthAdjust="spacingAndGlyphs" font-weight="bold" stroke-width="0">Apr</text>
<text x="414.00" y="875.6" font-size="29.6" fill="#45464e" stroke="#45464e" textLength="17.31" lengthAdjust="spacingAndGlyphs">7</text>
<text x="680.70" y="875.6" font-size="29.6" fill="#45464e" stroke="#45464e" textLength="32.24" lengthAdjust="spacingAndGlyphs">10</text>
<text x="969.20" y="875.6" font-size="29.6" fill="#45464e" stroke="#45464e" textLength="32.24" lengthAdjust="spacingAndGlyphs">15</text>
<text x="1243.20" y="875.6" font-size="29.6" fill="#45464e" stroke="#45464e" textLength="32.37" lengthAdjust="spacingAndGlyphs">19</text>
<text x="1533.20" y="875.6" font-size="29.6" fill="#45464e" stroke="#45464e" textLength="32.24" lengthAdjust="spacingAndGlyphs">23</text>
<text x="1822.20" y="875.6" font-size="29.6" fill="#45464e" stroke="#45464e" textLength="32.24" lengthAdjust="spacingAndGlyphs">28</text>
<text y="48.6"><tspan x="20.70" font-size="29.6" fill="#45464e" stroke="#45464e" textLength="62.64" lengthAdjust="spacingAndGlyphs">Gold</tspan> <tspan x="91.50" font-size="29.6" fill="#45464e" stroke="#45464e" textLength="34.76" lengthAdjust="spacingAndGlyphs">US</tspan> <tspan x="134.50" font-size="29.6" fill="#45464e" stroke="#45464e" textLength="92.63" lengthAdjust="spacingAndGlyphs">Dollars</tspan> <tspan x="235.90" font-size="29.6" fill="#45464e" stroke="#45464e" textLength="42.18" lengthAdjust="spacingAndGlyphs">per</tspan> <tspan x="289.30" font-size="29.6" fill="#45464e" stroke="#45464e" textLength="84.54" lengthAdjust="spacingAndGlyphs">Ounce</tspan> <tspan x="382.90" font-size="29.6" fill="#45464e" stroke="#45464e" textLength="57.51" lengthAdjust="spacingAndGlyphs">Spot</tspan> <tspan x="451.10" font-size="29.6" fill="#45464e" stroke="#45464e" textLength="88.73" lengthAdjust="spacingAndGlyphs">Prices,</tspan> <tspan x="550.30" font-size="29.6" fill="#45464e" stroke="#45464e" textLength="31.57" lengthAdjust="spacingAndGlyphs">4h</tspan> <tspan x="599.00" font-size="29.6" fill="#45464e" stroke="#45464e" textLength="20.84" lengthAdjust="spacingAndGlyphs">O</tspan><tspan x="620.00" font-size="29.6" fill="#e60000" stroke="#e60000" textLength="116.01" lengthAdjust="spacingAndGlyphs">4,692.05</tspan> <tspan x="754.00" font-size="29.6" fill="#45464e" stroke="#45464e" textLength="20.34" lengthAdjust="spacingAndGlyphs">H</tspan><tspan x="775.00" font-size="29.6" fill="#e60000" stroke="#e60000" textLength="115.52" lengthAdjust="spacingAndGlyphs">4,701.43</tspan> <tspan x="908.00" font-size="29.6" fill="#45464e" stroke="#45464e" textLength="15.99" lengthAdjust="spacingAndGlyphs">L</tspan><tspan x="925.00" font-size="29.6" fill="#e60000" stroke="#e60000" textLength="115.52" lengthAdjust="spacingAndGlyphs">4,666.66</tspan> <tspan x="1058.30" font-size="29.6" fill="#45464e" stroke="#45464e" textLength="17.31" lengthAdjust="spacingAndGlyphs">C</tspan><tspan x="1076.70" font-size="29.6" fill="#e60000" stroke="#e60000" textLength="116.01" lengthAdjust="spacingAndGlyphs">4,669.36</tspan> <tspan x="1211.70" font-size="29.6" fill="#e60000" stroke="#e60000" textLength="82.05" lengthAdjust="spacingAndGlyphs">-22.71</tspan> <tspan x="1306.30" font-size="29.6" fill="#e60000" stroke="#e60000" textLength="112.08" lengthAdjust="spacingAndGlyphs">(−0.48%)</tspan></text>
<text y="91.1"><tspan x="19.70" font-size="29.6" fill="#45464e" stroke="#45464e" textLength="39.66" lengthAdjust="spacingAndGlyphs">MA</tspan> <tspan x="69.70" font-size="29.6" fill="#45464e" stroke="#45464e" textLength="68.80" lengthAdjust="spacingAndGlyphs">(200,</tspan> <tspan x="147.30" font-size="29.6" fill="#45464e" stroke="#45464e" textLength="78.12" lengthAdjust="spacingAndGlyphs">close,</tspan> <tspan x="235.70" font-size="29.6" fill="#45464e" stroke="#45464e" textLength="26.88" lengthAdjust="spacingAndGlyphs">0)</tspan> <tspan x="281.00" font-size="29.6" fill="#ff9800" stroke="#ff9800" textLength="115.52" lengthAdjust="spacingAndGlyphs">4,723.13</tspan></text>
<text y="616.0"><tspan x="19.20" font-size="29.6" fill="#45464e" stroke="#45464e" textLength="77.13" lengthAdjust="spacingAndGlyphs">MACD</tspan> <tspan x="106.30" font-size="29.6" fill="#45464e" stroke="#45464e" textLength="51.93" lengthAdjust="spacingAndGlyphs">(12,</tspan> <tspan x="167.30" font-size="29.6" fill="#45464e" stroke="#45464e" textLength="42.26" lengthAdjust="spacingAndGlyphs">26,</tspan> <tspan x="219.80" font-size="29.6" fill="#45464e" stroke="#45464e" textLength="77.13" lengthAdjust="spacingAndGlyphs">close,</tspan> <tspan x="307.30" font-size="29.6" fill="#45464e" stroke="#45464e" textLength="27.29" lengthAdjust="spacingAndGlyphs">9)</tspan> <tspan x="353.70" font-size="29.6" fill="#ff5252" stroke="#ff5252" textLength="68.58" lengthAdjust="spacingAndGlyphs">-0.47</tspan> <tspan x="441.00" font-size="29.6" fill="#2196f3" stroke="#2196f3" textLength="83.57" lengthAdjust="spacingAndGlyphs">-17.72</tspan> <tspan x="544.00" font-size="29.6" fill="#ff6d00" stroke="#ff6d00" textLength="83.54" lengthAdjust="spacingAndGlyphs">-17.25</tspan></text>
<text y="742.0"><tspan x="20.80" font-size="29.6" fill="#45464e" stroke="#45464e" textLength="39.96" lengthAdjust="spacingAndGlyphs">RSI</tspan> <tspan x="71.00" font-size="29.6" fill="#45464e" stroke="#45464e" textLength="53.27" lengthAdjust="spacingAndGlyphs">(14)</tspan> <tspan x="142.00" font-size="29.6" fill="#7e57c2" stroke="#7e57c2" textLength="73.02" lengthAdjust="spacingAndGlyphs">40.83</tspan></text>
</svg>
</body></html>
